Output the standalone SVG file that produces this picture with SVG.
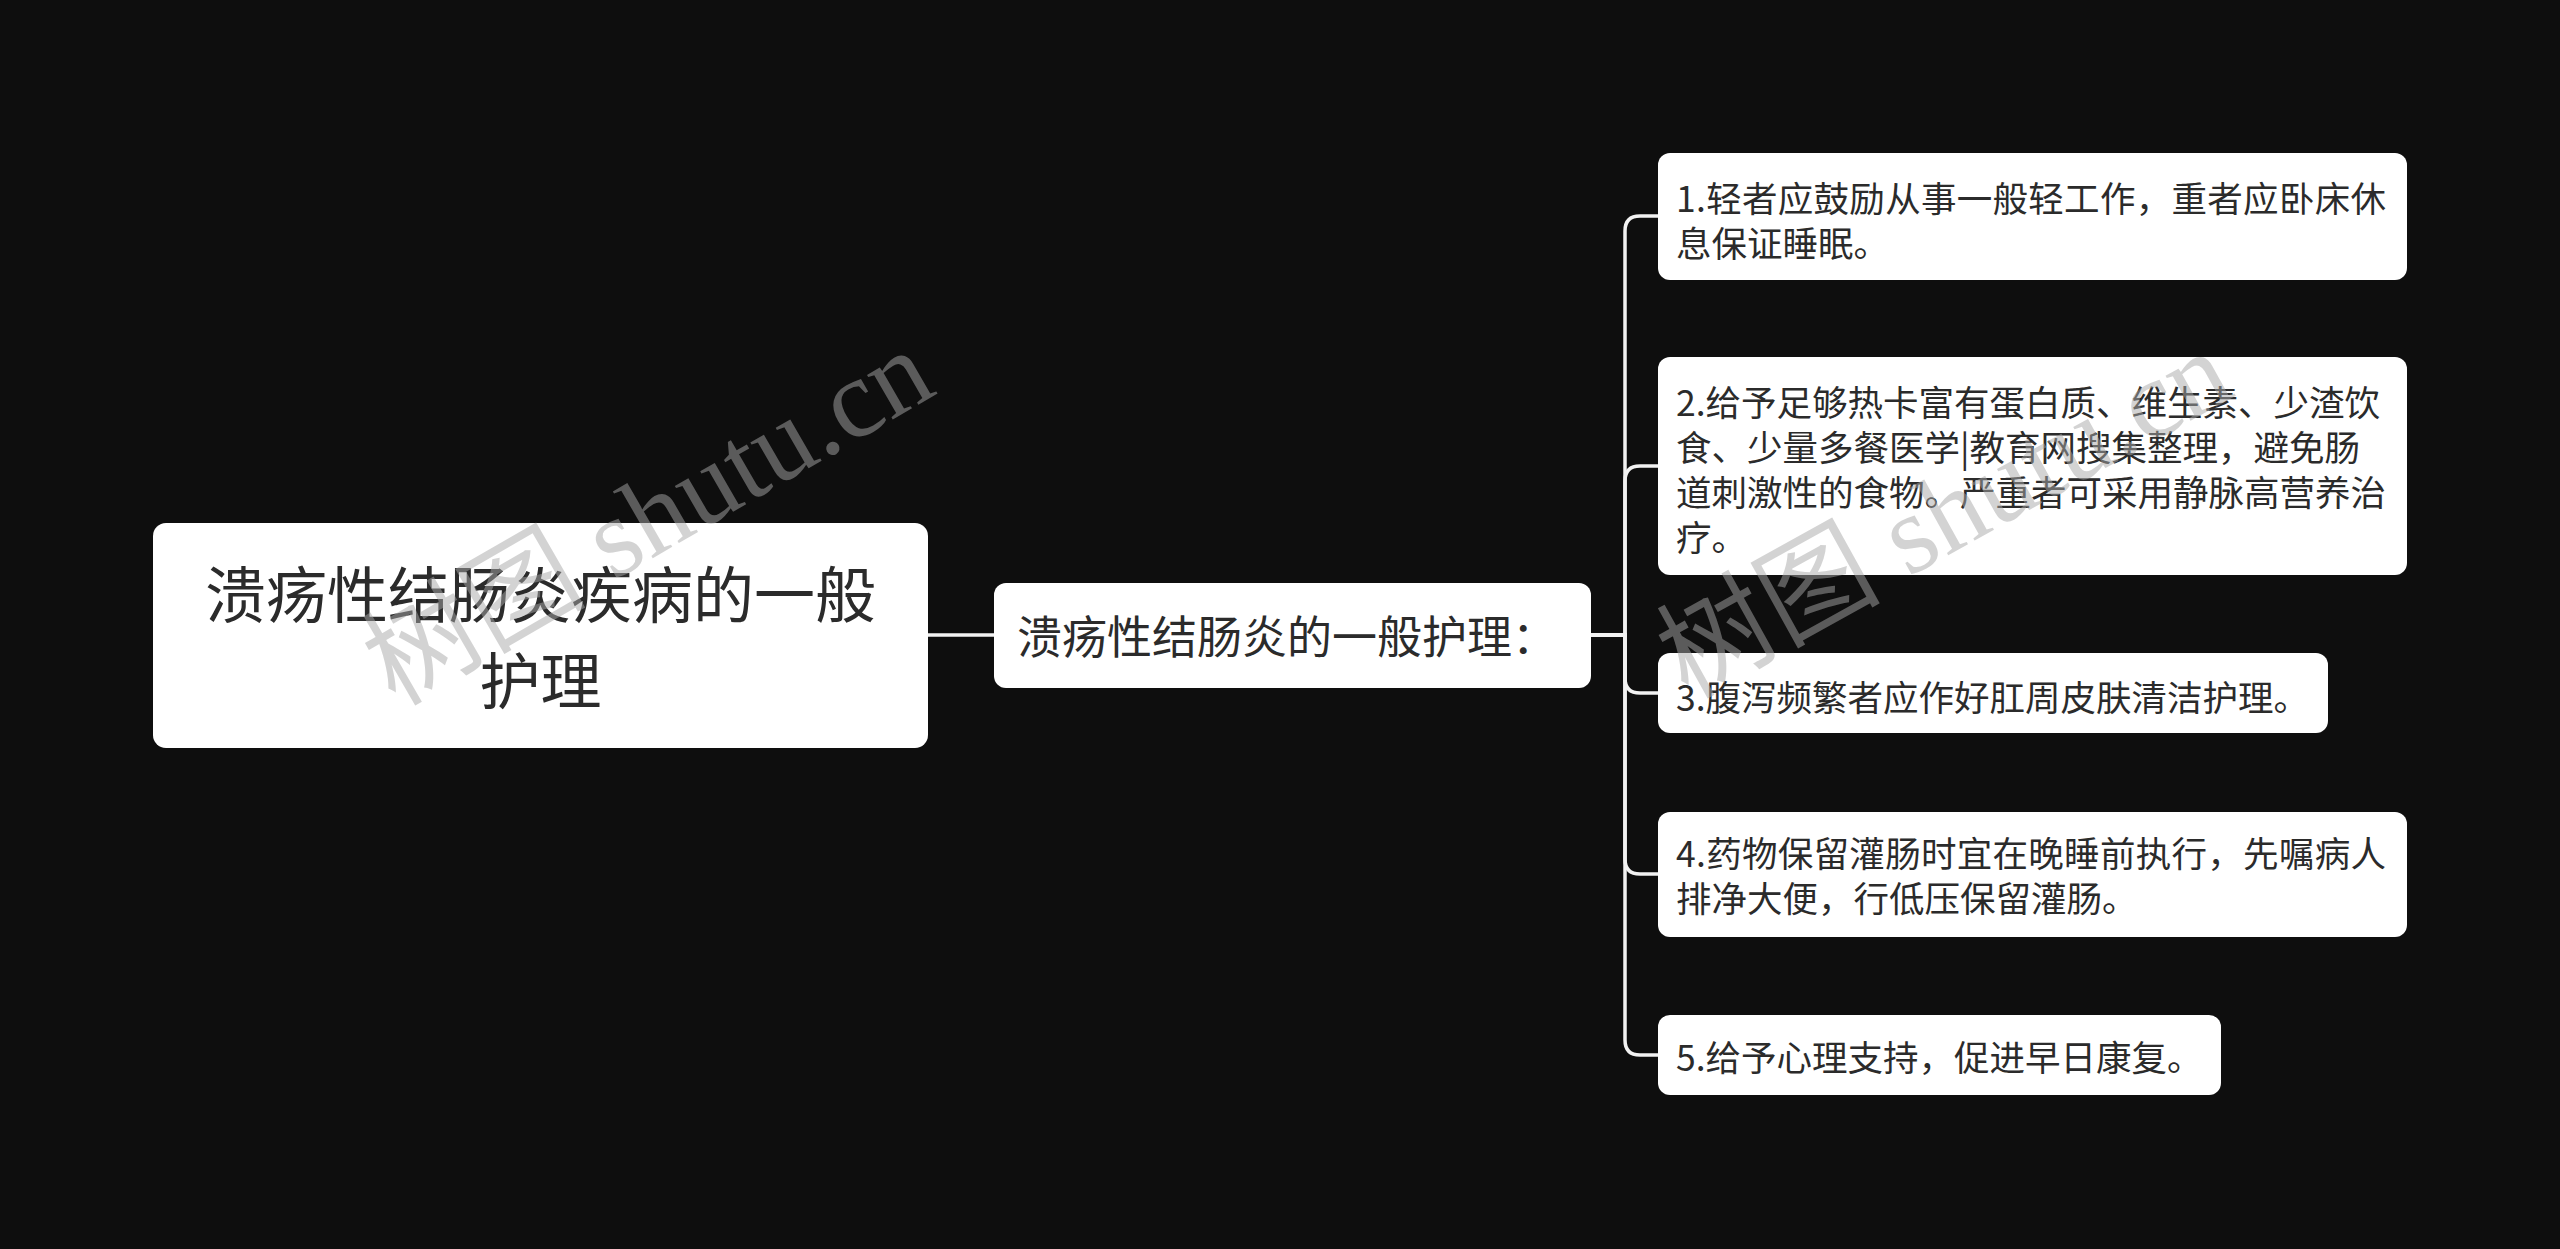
<svg xmlns="http://www.w3.org/2000/svg" width="2560" height="1249" viewBox="0 0 2560 1249">
<defs>
<style>
.bg{fill:#0e0e0e}
.node{fill:#ffffff}
.t{font-family:"Noto Sans CJK SC","Noto Sans",sans-serif;fill:#2b2b2b}
.root{font-size:61px}
.mid{font-size:45px}
.leaf{font-size:35.5px}
.conn{fill:none;stroke:#f2f2f2;stroke-width:3.5;stroke-linecap:round}
.wm{font-family:"Liberation Serif","Noto Sans CJK SC",serif;font-size:112px;fill:#a8a8a8;opacity:0.5}
</style>
</defs>
<rect class="bg" x="0" y="0" width="2560" height="1249"/>
<g id="connectors">
<path class="conn" d="M928 635 H994"/>
<path class="conn" d="M1591 635 H1625 V231 Q1625 216 1640 216 H1658"/>
<path class="conn" d="M1591 635 H1625 V481 Q1625 466 1640 466 H1658"/>
<path class="conn" d="M1591 635 H1625 V678 Q1625 693 1640 693 H1658"/>
<path class="conn" d="M1591 635 H1625 V859 Q1625 874 1640 874 H1658"/>
<path class="conn" d="M1591 635 H1625 V1040 Q1625 1055 1640 1055 H1658"/>
</g>
<g id="root">
<rect class="node" x="153" y="523" width="775" height="225" rx="13"/>
<text class="t root" x="540.5" y="618" text-anchor="middle">溃疡性结肠炎疾病的一般</text>
<text class="t root" x="540.5" y="704" text-anchor="middle">护理</text>
</g>
<g id="mid">
<rect class="node" x="994" y="583" width="597" height="105" rx="12"/>
<text class="t mid" x="1017" y="654">溃疡性结肠炎的一般护理：</text>
</g>
<g id="n1">
<rect class="node" x="1658" y="153" width="749" height="127" rx="12"/>
<text class="t leaf" x="1676" y="211.5" textLength="710" lengthAdjust="spacing">1.轻者应鼓励从事一般轻工作，重者应卧床休</text>
<text class="t leaf" x="1676" y="256.5">息保证睡眠。</text>
</g>
<g id="n2">
<rect class="node" x="1658" y="357" width="749" height="218" rx="12"/>
<text class="t leaf" x="1676" y="415.5">2.给予足够热卡富有蛋白质、维生素、少渣饮</text>
<text class="t leaf" x="1676" y="460.8">食、少量多餐医学|教育网搜集整理，避免肠</text>
<text class="t leaf" x="1676" y="506.1">道刺激性的食物。严重者可采用静脉高营养治</text>
<text class="t leaf" x="1676" y="551.4">疗。</text>
</g>
<g id="n3">
<rect class="node" x="1658" y="653" width="670" height="80" rx="12"/>
<text class="t leaf" x="1676" y="710.5">3.腹泻频繁者应作好肛周皮肤清洁护理。</text>
</g>
<g id="n4">
<rect class="node" x="1658" y="812" width="749" height="125" rx="12"/>
<text class="t leaf" x="1676" y="866.5" textLength="710" lengthAdjust="spacing">4.药物保留灌肠时宜在晚睡前执行，先嘱病人</text>
<text class="t leaf" x="1676" y="911.5">排净大便，行低压保留灌肠。</text>
</g>
<g id="n5">
<rect class="node" x="1658" y="1015" width="563" height="80" rx="12"/>
<text class="t leaf" x="1676" y="1070.5">5.给予心理支持，促进早日康复。</text>
</g>
<g id="watermarks">
<text class="wm" x="648" y="517" text-anchor="middle" dominant-baseline="central" transform="rotate(-30 648 517)">树图 shutu.cn</text>
<text class="wm" x="1944" y="514" text-anchor="middle" dominant-baseline="central" transform="rotate(-29 1944 514)">树图 shutu.cn</text>
</g>
</svg>
